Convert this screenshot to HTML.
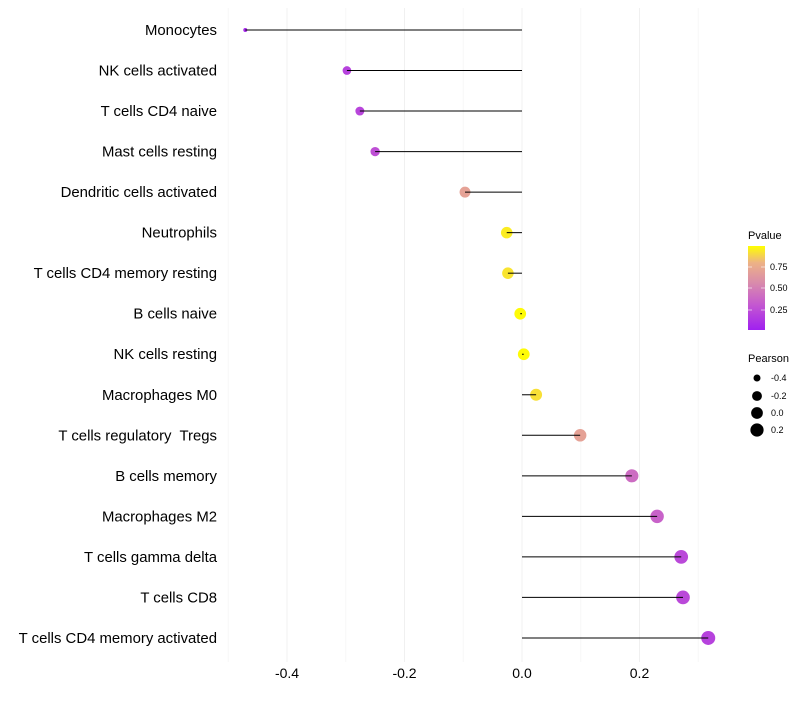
<!DOCTYPE html>
<html><head><meta charset="utf-8"><style>
body{margin:0;background:#fff;font-family:"Liberation Sans",sans-serif}
text{white-space:pre}
</style></head><body>
<svg id="chart" width="800" height="700" xmlns="http://www.w3.org/2000/svg">
<defs><linearGradient id="pg" x1="0" y1="1" x2="0" y2="0">
<stop offset="0" stop-color="#a020f0"/><stop offset="0.3" stop-color="#c458d0"/><stop offset="0.55" stop-color="#d889ad"/><stop offset="0.8" stop-color="#edb286"/><stop offset="1" stop-color="#ffff00"/></linearGradient></defs>
<g id="grid"></g><g id="marks"></g><g id="labels"></g><g id="legend"></g>
</svg>
<script>
const categories=["Monocytes","NK cells activated","T cells CD4 naive","Mast cells resting","Dendritic cells activated","Neutrophils","T cells CD4 memory resting","B cells naive","NK cells resting","Macrophages M0","T cells regulatory  Tregs","B cells memory","Macrophages M2","T cells gamma delta","T cells CD8","T cells CD4 memory activated"];
const pearson=[-0.471,-0.298,-0.276,-0.250,-0.097,-0.026,-0.024,-0.003,0.003,0.024,0.099,0.187,0.230,0.271,0.274,0.317];
const pvalue=[0.05,0.18,0.2,0.25,0.7,0.95,0.93,0.99,0.99,0.92,0.7,0.4,0.35,0.22,0.22,0.18];
const xTicks=[-0.4,-0.2,0.0,0.2];
const xTickLabels=["-0.4","-0.2","0.0","0.2"];
const minorTicks=[-0.5,-0.3,-0.1,0.1,0.3];
const ns="http://www.w3.org/2000/svg";
const X=v=>522+v*587.5;
const Y=i=>30+i*40.53;
const R=v=>2+5*Math.sqrt(Math.max(0,(v+0.471)/0.788));
function mk(t,a,p){const e=document.createElementNS(ns,t);for(const k in a)e.setAttribute(k,a[k]);p.appendChild(e);return e;}
function lerp(a,b,t){return a.map((x,i)=>Math.round(x+(b[i]-x)*t));}
const stops=[[0,[160,32,240]],[0.3,[196,88,208]],[0.55,[216,137,173]],[0.8,[237,178,134]],[1,[255,255,0]]];
function col(p){for(let i=1;i<stops.length;i++){if(p<=stops[i][0]){const t=(p-stops[i-1][0])/(stops[i][0]-stops[i-1][0]);return "rgb("+lerp(stops[i-1][1],stops[i][1],t).join(",")+")";}}return "rgb(255,255,0)";}
const g=document.getElementById('grid'),m=document.getElementById('marks'),lb=document.getElementById('labels'),lg=document.getElementById('legend');
minorTicks.forEach(v=>{const l=mk('line',{x1:X(v),x2:X(v),y1:8,y2:662,stroke:'#f7f7f7','stroke-width':1},g);});
xTicks.forEach((v,i)=>{const l=mk('line',{x1:X(v),x2:X(v),y1:8,y2:662,stroke:'#f0f0f0','stroke-width':1},g);
const t=mk('text',{x:X(v),y:678,'text-anchor':'middle','font-size':14,fill:'#000'},lb);t.textContent=xTickLabels[i];});
categories.forEach((c,i)=>{const y=Y(i);
const t=mk('text',{x:217,y:y+5,'text-anchor':'end','font-size':14.9,fill:'#000'},lb);t.textContent=c;
const pt=mk('circle',{cx:X(pearson[i]),cy:y,r:R(pearson[i]),fill:col(pvalue[i])},m);
const l=mk('line',{x1:X(0),x2:X(pearson[i]),y1:y,y2:y,stroke:'#000','stroke-width':1},m);});
let e;
e=mk('text',{x:748,y:239,'font-size':11},lg);e.textContent='Pvalue';
e=mk('rect',{x:748,y:246,width:17,height:84,fill:'url(#pg)'},lg);
[[0.75,267],[0.50,288],[0.25,310]].forEach(([v,y])=>{e=mk('text',{x:770,y:y+3,'font-size':9},lg);e.textContent=v.toFixed(2);
mk('line',{x1:748,x2:752,y1:y,y2:y,stroke:'#fff','stroke-opacity':0.6},lg);mk('line',{x1:761,x2:765,y1:y,y2:y,stroke:'#fff','stroke-opacity':0.6},lg);});
e=mk('text',{x:748,y:362,'font-size':11},lg);e.textContent='Pearson';
[[-0.4,378],[-0.2,396],[0.0,413],[0.2,430]].forEach(([v,y])=>{e=mk('circle',{cx:757,cy:y,r:R(v),fill:'#000'},lg);
e=mk('text',{x:771,y:y+3,'font-size':9},lg);e.textContent=v.toFixed(1);});
</script>
</body></html>
